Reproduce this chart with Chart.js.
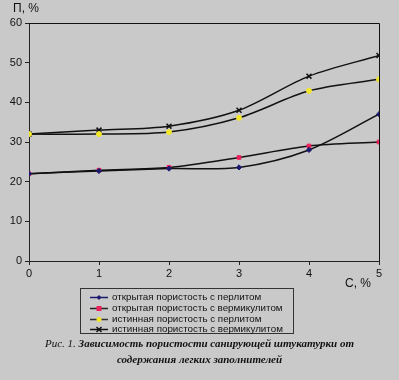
<!DOCTYPE html>
<html><head><meta charset="utf-8">
<script src="https://cdn.jsdelivr.net/npm/chart.js@4/dist/chart.umd.min.js"></script>
<style>
html,body{margin:0;padding:0;background:#c9c9c9;}
#wrap{position:relative;width:399px;height:380px;overflow:hidden;background:#c9c9c9;}
canvas{position:absolute;left:0;top:0;}
.t{position:absolute;font-family:"Liberation Sans",Arial,sans-serif;color:#111;white-space:nowrap;}
#legend{position:absolute;left:80px;top:288px;width:214px;height:46px;border:1px solid #333;box-sizing:border-box;font-family:"Liberation Sans",Arial,sans-serif;font-size:9.8px;color:#111;}
.li{position:absolute;left:8px;height:11px;line-height:11px;white-space:nowrap;}
.li canvas{position:static;vertical-align:middle;margin-right:3px;}
#cap{position:absolute;left:0;width:399px;top:335px;text-align:center;font-family:"Liberation Serif","Times New Roman",serif;font-style:italic;font-weight:bold;font-size:11px;line-height:16px;color:#111;}
</style></head>
<body><div id="wrap">
<canvas id="c" width="399" height="380"></canvas>
<div class="t" style="left:13px;top:1px;font-size:12px;">П, %</div>
<div class="t" style="left:345px;top:276px;font-size:12px;">С, %</div>
<div id="legend"></div>
<div id="cap"><span style="font-weight:normal">Рис. 1.</span> Зависимость пористости санирующей штукатурки от<br>содержания легких заполнителей</div>
</div>
<script>
const contentX = [0, 1, 2, 3, 4, 5];
const seriesNames = [
  "открытая пористость с перлитом",
  "открытая пористость с вермикулитом",
  "истинная пористость с перлитом",
  "истинная пористость с вермикулитом"
];
const openPerlite = [22, 22.7, 23.3, 23.6, 28, 37];
const openVermiculite = [22, 22.9, 23.6, 26.1, 29, 30];
const truePerlite = [32, 32, 32.5, 36.1, 42.9, 45.8];
const trueVermiculite = [32, 33, 34, 38, 46.6, 51.8];
const yTicks = [0, 10, 20, 30, 40, 50, 60];

const markerColors = ["#1a1a6e", "#ee1f5a", "#f2e62a", "#111111"];
const markerStyles = ["rectRot", "rect", "circle", "crossRot"];
const markerSizes = [2.6, 2.6, 2.5, 3.5];
const legendLineColors = ["#1a1a6e", "#222222", "#333333", "#111111"];
const allSeries = [openPerlite, openVermiculite, truePerlite, trueVermiculite];

const datasets = allSeries.map((vals, i) => ({
  label: seriesNames[i],
  data: vals.map((v, j) => ({x: contentX[j], y: v})),
  borderColor: "#111",
  borderWidth: 1.5,
  tension: 0.3,
  pointStyle: markerStyles[i],
  pointRadius: markerSizes[i],
  pointBackgroundColor: markerColors[i],
  pointBorderColor: markerColors[i],
  pointBorderWidth: i === 3 ? 1.5 : 1,
  fill: false
}));

const frame = {
  id: "frame",
  afterDraw(chart) {
    const {ctx, chartArea: a} = chart;
    ctx.save();
    ctx.strokeStyle = "#111";
    ctx.lineWidth = 1;
    ctx.beginPath();
    ctx.moveTo(a.left, a.top + 0.5); ctx.lineTo(a.right + 0.5, a.top + 0.5);
    ctx.lineTo(a.right + 0.5, a.bottom);
    ctx.stroke();
    ctx.restore();
  }
};

new Chart(document.getElementById("c"), {
  type: "line",
  data: {datasets},
  options: {
    responsive: false,
    animation: false,
    layout: {padding: {left: 0, top: 23, right: 20, bottom: 99}},
    plugins: {legend: {display: false}, tooltip: {enabled: false}},
    scales: {
      x: {
        type: "linear", min: 0, max: 5,
        afterFit(s) { s.height = 20; },
        ticks: {stepSize: 1, color: "#111", font: {family: "Liberation Sans", size: 11}, padding: 2},
        grid: {drawOnChartArea: false, color: "#222", tickLength: 4},
        border: {color: "#222", width: 1}
      },
      y: {
        min: 0, max: 60,
        afterFit(s) { s.width = 29; },
        afterBuildTicks(s) { s.ticks = yTicks.map(v => ({value: v})); },
        ticks: {color: "#111", font: {family: "Liberation Sans", size: 11}, padding: 3},
        grid: {drawOnChartArea: false, color: "#222", tickLength: 4},
        border: {color: "#222", width: 1}
      }
    }
  },
  plugins: [frame]
});

// legend (HTML) built from series names
const lg = document.getElementById("legend");
seriesNames.forEach((name, i) => {
  const row = document.createElement("div");
  row.className = "li";
  row.style.top = (2 + i * 10.8) + "px";
  const cv = document.createElement("canvas");
  cv.width = 20; cv.height = 9;
  const c = cv.getContext("2d");
  c.strokeStyle = legendLineColors[i]; c.lineWidth = 1.5;
  c.beginPath(); c.moveTo(1, 4.5); c.lineTo(19, 4.5); c.stroke();
  c.fillStyle = markerColors[i]; c.strokeStyle = markerColors[i];
  c.beginPath();
  if (i === 0) { c.moveTo(10,2);c.lineTo(12.5,4.5);c.lineTo(10,7);c.lineTo(7.5,4.5);c.closePath();c.fill(); }
  else if (i === 1) { c.fillRect(7.5,2,5,5); }
  else if (i === 2) { c.arc(10,4.5,2.5,0,Math.PI*2); c.fill(); }
  else { c.lineWidth=1.5; c.moveTo(7.5,2);c.lineTo(12.5,7);c.moveTo(12.5,2);c.lineTo(7.5,7);c.stroke(); }
  row.appendChild(cv);
  row.appendChild(document.createTextNode(name));
  lg.appendChild(row);
});
</script>
</body></html>
